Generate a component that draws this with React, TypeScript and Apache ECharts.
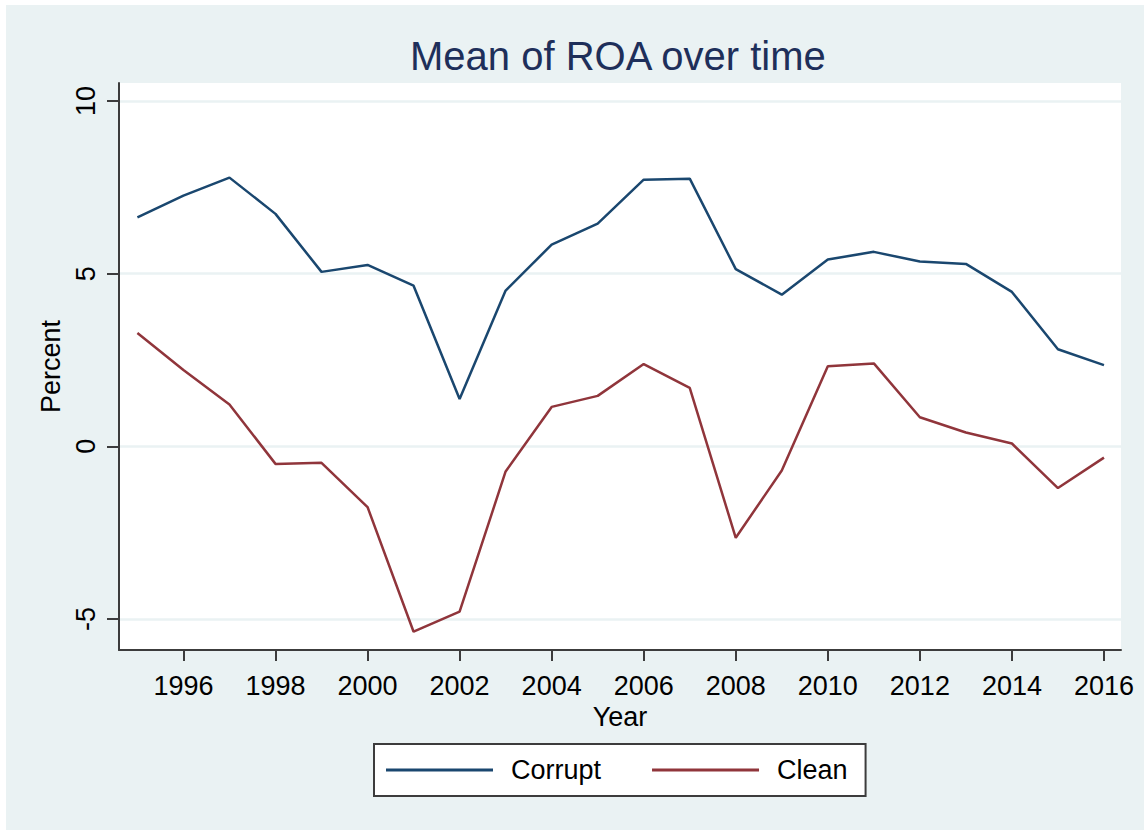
import React, { useEffect, useRef } from "react";
import * as echarts from "echarts";

const years = [1995, 1996, 1997, 1998, 1999, 2000, 2001, 2002, 2003, 2004, 2005, 2006, 2007, 2008, 2009, 2010, 2011, 2012, 2013, 2014, 2015, 2016];
const corrupt = [6.63, 7.26, 7.78, 6.73, 5.05, 5.25, 4.65, 1.37, 4.51, 5.84, 6.45, 7.72, 7.75, 5.13, 4.39, 5.41, 5.63, 5.35, 5.28, 4.47, 2.81, 2.35];
const clean = [3.28, 2.21, 1.21, -0.51, -0.48, -1.76, -5.37, -4.79, -0.73, 1.14, 1.46, 2.38, 1.69, -2.65, -0.7, 2.32, 2.4, 0.84, 0.4, 0.08, -1.21, -0.33];
const xTicks = [1996, 1998, 2000, 2002, 2004, 2006, 2008, 2010, 2012, 2014, 2016];
const yTicks = [-5, 0, 5, 10];

const FONT = "'Liberation Sans', Arial, sans-serif";

export default function App() {
  const ref = useRef<HTMLDivElement>(null);
  useEffect(() => {
    document.body.style.margin = "0";
    const chart = echarts.init(ref.current!, null, { renderer: "svg" });
    const axisLineStyle = { color: "#3c3c3c", width: 2 };
    chart.setOption({
      animation: false,
      backgroundColor: "#ffffff",
      textStyle: { fontFamily: FONT },
      graphic: [
        {
          type: "rect",
          z: -10,
          silent: true,
          shape: { x: 6, y: 5, width: 1138, height: 825 },
          style: { fill: "#EAF2F3" },
        },
      ],
      title: {
        text: "Mean of ROA over time",
        left: 410,
        top: 36,
        padding: 0,
        textStyle: { fontFamily: FONT, fontSize: 40, fontWeight: "normal", color: "#1E2F5A" },
      },
      grid: {
        left: 119,
        right: 23,
        top: 83,
        bottom: 180,
        show: true,
        backgroundColor: "#ffffff",
        borderWidth: 0,
        containLabel: false,
      },
      legend: {
        left: 374,
        top: 744,
        backgroundColor: "#ffffff",
        borderColor: "#3c3c3c",
        borderWidth: 2,
        borderRadius: 0,
        padding: [11, 18, 11, 12],
        itemGap: 51,
        itemWidth: 107,
        itemHeight: 3,
        icon: "rect",
        textStyle: { fontFamily: FONT, fontSize: 27, color: "#000", padding: [0, 0, 0, 13], lineHeight: 30 },
        data: ["Corrupt", "Clean"],
      },
      xAxis: {
        type: "value",
        min: 1994.6,
        max: 2016.37,
        name: "Year",
        nameLocation: "middle",
        nameGap: 50,
        nameTextStyle: { fontFamily: FONT, fontSize: 27, color: "#000" },
        axisLine: { show: true, onZero: false, lineStyle: axisLineStyle },
        axisTick: { show: true, length: 11, lineStyle: axisLineStyle, customValues: xTicks },
        axisLabel: { fontFamily: FONT, fontSize: 27, color: "#000", margin: 22, customValues: xTicks, formatter: (v: number) => String(v) },
        splitLine: { show: false },
      },
      yAxis: {
        type: "value",
        min: -5.9,
        max: 10.52,
        name: "Percent",
        nameLocation: "middle",
        nameRotate: 90,
        nameGap: 44,
        nameTextStyle: { fontFamily: FONT, fontSize: 27, color: "#000" },
        axisLine: { show: true, onZero: false, lineStyle: axisLineStyle },
        axisTick: { show: true, length: 12, lineStyle: axisLineStyle, customValues: yTicks },
        axisLabel: { fontFamily: FONT, fontSize: 27, color: "#000", rotate: 90, margin: 20, customValues: yTicks },
        splitLine: { show: true, lineStyle: { color: "#EAF2F3", width: 2.5 } },
      },
      series: [
        {
          name: "Corrupt",
          type: "line",
          data: years.map((y, i) => [y, corrupt[i]]),
          symbol: "none",
          lineStyle: { color: "#1A476F", width: 2.5 },
          itemStyle: { color: "#1A476F" },
        },
        {
          name: "Clean",
          type: "line",
          data: years.map((y, i) => [y, clean[i]]),
          symbol: "none",
          lineStyle: { color: "#90353B", width: 2.5 },
          itemStyle: { color: "#90353B" },
        },
      ],
    });
    return () => chart.dispose();
  }, []);
  return <div ref={ref} style={{ width: 1144, height: 830 }} />;
}
